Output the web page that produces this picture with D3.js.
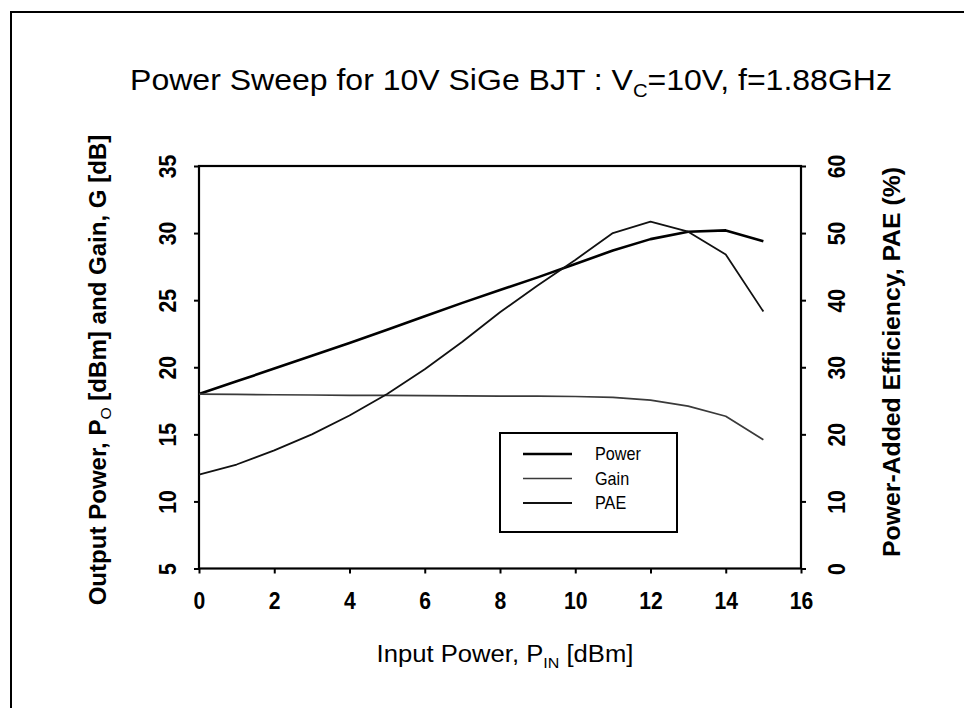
<!DOCTYPE html>
<html>
<head>
<meta charset="utf-8">
<script src="https://cdn.jsdelivr.net/npm/d3@7"></script>
<style>
  body { margin: 0; background: #fff; }
  svg { display: block; font-family: "Liberation Sans", Arial, sans-serif; }
</style>
</head>
<body>
<div id="chart"></div>
<script>
// data (input power in dBm)
const pin = [0, 1, 2, 3, 4, 5, 6, 7, 8, 9, 10, 11, 12, 13, 14, 15];
const powerOut = [18.0, 18.95, 19.9, 20.85, 21.8, 22.8, 23.8, 24.8, 25.75, 26.7, 27.7, 28.7, 29.55, 30.1, 30.2, 29.4];
const gain = [18.0, 17.98, 17.95, 17.93, 17.9, 17.9, 17.88, 17.87, 17.85, 17.85, 17.82, 17.75, 17.55, 17.1, 16.35, 14.6];
const pae = [14.0, 15.5, 17.6, 20.0, 22.8, 26.0, 29.7, 33.8, 38.2, 42.2, 46.0, 50.0, 51.7, 50.2, 46.8, 38.3];

const xTicks = [0, 2, 4, 6, 8, 10, 12, 14, 16];
const leftTicks = [5, 10, 15, 20, 25, 30, 35];
const rightTicks = [0, 10, 20, 30, 40, 50, 60];
const legendNames = ["Power", "Gain", "PAE"];

const W = 964, H = 708;
const plot = {left: 199, right: 801, top: 166, bottom: 568.5};

const svg = d3.select("#chart").append("svg")
  .attr("width", W)
  .attr("height", H);

// scanned page frame
svg.append("path")
  .attr("d", `M11,${H} L11,12 L${W},12`)
  .attr("fill", "none")
  .attr("stroke", "#000")
  .attr("stroke-width", 2);

const x = d3.scaleLinear().domain([0, 16]).range([plot.left, plot.right]);
const yL = d3.scaleLinear().domain([5, 35]).range([plot.bottom, plot.top]);
const yR = d3.scaleLinear().domain([0, 60]).range([plot.bottom, plot.top]);

// squeeze a text horizontally so it covers the width seen in the scan
function fitText(sel, cx, cy, w, rot) {
  const bw = sel.node().getBBox().width;
  sel.attr("transform", `translate(${cx},${cy}) rotate(${rot}) scale(${w / bw},1)`);
}

// axes
const xAxis = d3.axisBottom(x).tickValues(xTicks).tickSize(5).tickPadding(19).tickFormat(d3.format("d"));
const yAxisL = d3.axisLeft(yL).tickValues(leftTicks).tickSize(5).tickFormat(d3.format("d"));
const yAxisR = d3.axisRight(yR).tickValues(rightTicks).tickSize(5).tickFormat(d3.format("d"));

const gx = svg.append("g").attr("transform", `translate(0,${plot.bottom})`).call(xAxis);
const gl = svg.append("g").attr("transform", `translate(${plot.left},0)`).call(yAxisL);
const gr = svg.append("g").attr("transform", `translate(${plot.right},0)`).call(yAxisR);

[gx, gl, gr].forEach(g => {
  g.select(".domain").remove();
  g.selectAll(".tick line").attr("stroke", "#000").attr("stroke-width", 2);
  g.selectAll("text")
    .attr("fill", "#000")
    .attr("font-size", 23)
    .attr("font-weight", "bold")
    .attr("font-family", "Liberation Sans, Arial, sans-serif");
});

gl.selectAll(".tick text")
  .attr("x", 0).attr("dy", "0.36em")
  .attr("text-anchor", "middle")
  .attr("transform", "translate(-31,0) rotate(-90) scale(0.92,1)");
gr.selectAll(".tick text")
  .attr("x", 0).attr("dy", "0.36em")
  .attr("text-anchor", "middle")
  .attr("transform", "translate(36,0) rotate(-90) scale(0.92,1)");
gx.selectAll(".tick text")
  .attr("transform", "scale(0.92,1)");

// plot frame
svg.append("rect")
  .attr("x", plot.left).attr("y", plot.top)
  .attr("width", plot.right - plot.left)
  .attr("height", plot.bottom - plot.top)
  .attr("fill", "none")
  .attr("stroke", "#000")
  .attr("stroke-width", 2.2);

// curves
const lineL = d3.line().x((d, i) => x(pin[i])).y(d => yL(d));
const lineR = d3.line().x((d, i) => x(pin[i])).y(d => yR(d));

const series = [
  {name: "Power", values: powerOut, line: lineL, width: 2.6, color: "#000"},
  {name: "Gain", values: gain, line: lineL, width: 1.7, color: "#3a3a3a"},
  {name: "PAE", values: pae, line: lineR, width: 1.8, color: "#111"}
];

series.forEach(s => {
  svg.append("path")
    .datum(s.values)
    .attr("d", s.line)
    .attr("fill", "none")
    .attr("stroke", s.color)
    .attr("stroke-width", s.width)
    .attr("stroke-linejoin", "round");
});

// legend
const lg = svg.append("g");
lg.append("rect")
  .attr("x", 500).attr("y", 433)
  .attr("width", 177).attr("height", 99)
  .attr("fill", "#fff")
  .attr("stroke", "#000")
  .attr("stroke-width", 2);

legendNames.forEach((name, i) => {
  const s = series[i];
  const ly = 454 + i * 24.5;
  lg.append("line")
    .attr("x1", 523).attr("x2", 572)
    .attr("y1", ly).attr("y2", ly)
    .attr("stroke", s.color)
    .attr("stroke-width", s.width);
  lg.append("text")
    .attr("x", 595).attr("y", ly)
    .attr("dy", "0.36em")
    .attr("font-size", 18)
    .attr("fill", "#000")
    .attr("transform", `translate(${595 * 0.1},0) scale(0.9,1)`)
    .text(name);
});

// title with subscript
const title = svg.append("text")
  .attr("x", 0).attr("y", 0)
  .attr("text-anchor", "middle")
  .attr("font-size", 30)
  .attr("fill", "#000");
title.append("tspan").text("Power Sweep for 10V SiGe BJT : V");
title.append("tspan").attr("dy", 7).attr("font-size", 19).text("C");
title.append("tspan").attr("dy", -7).text("=10V, f=1.88GHz");
fitText(title, 511, 90, 762, 0);

// x label
const xl = svg.append("text")
  .attr("x", 0).attr("y", 0)
  .attr("text-anchor", "middle")
  .attr("font-size", 24)
  .attr("fill", "#000");
xl.append("tspan").text("Input Power, P");
xl.append("tspan").attr("dy", 6).attr("font-size", 15).text("IN");
xl.append("tspan").attr("dy", -6).text(" [dBm]");
fitText(xl, 505, 662, 257, 0);

// left y label
const yl = svg.append("text")
  .attr("x", 0).attr("y", 0)
  .attr("text-anchor", "middle")
  .attr("font-size", 23)
  .attr("font-weight", "bold")
  .attr("fill", "#000");
yl.append("tspan").text("Output Power, P");
yl.append("tspan").attr("dy", 5).attr("font-size", 15).attr("font-weight", "normal").text("O");
yl.append("tspan").attr("dy", -5).text(" [dBm] and Gain, G [dB]");
fitText(yl, 106, 370, 471, -90);

// right y label
const yr = svg.append("text")
  .attr("x", 0).attr("y", 0)
  .attr("text-anchor", "middle")
  .attr("font-size", 23)
  .attr("font-weight", "bold")
  .attr("fill", "#000")
  .text("Power-Added Efficiency, PAE (%)");
fitText(yr, 900, 362, 390, -90);
</script>
</body>
</html>
